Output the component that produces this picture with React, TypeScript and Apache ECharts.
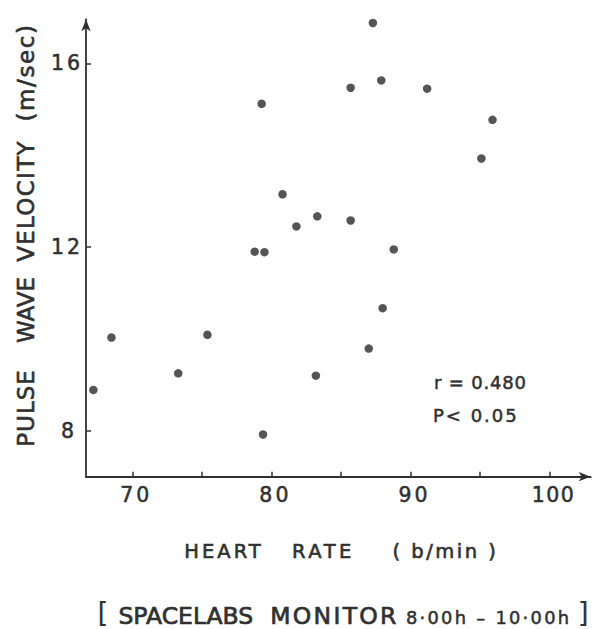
import React, { useEffect, useRef } from "react";
import * as echarts from "echarts";

const heartRate = [67.2, 68.5, 73.3, 75.4, 78.8, 79.5, 79.4, 79.3, 80.8, 81.8, 83.3, 85.7, 88.8, 87.3, 85.7, 87.9, 91.2, 95.9, 95.1, 88.0, 87.0, 83.2];
const pulseWaveVelocity = [8.89, 10.03, 9.25, 10.09, 11.9, 11.89, 7.92, 15.12, 13.15, 12.45, 12.67, 12.58, 11.95, 16.88, 15.47, 15.63, 15.45, 14.77, 13.93, 10.67, 9.79, 9.2];

const xTickValues = [70, 75, 80, 85, 90, 95, 100];
const xLabelValues = [70, 80, 90, 100];
const yTickValues = [8, 12, 16];

const yTitleWords = ["PULSE", "WAVE", "VELOCITY", "(m/sec)"];
const xTitleWords = ["HEART", "RATE", "( b/min )"];
const sourceWords = ["SPACELABS", "MONITOR"];
const sourceTime = "8·00h – 10·00h";
const statLines = ["r = 0.480", "P< 0.05"];

const FONT = "DejaVu Sans";
const INK = "#303030";

// extra tracking (px) per text, emulating the wide lettering of the original
const tracking: Record<string, number> = {
  PULSE: 1,
  VELOCITY: 1.3,
  "(m/sec)": 1.6,
  HEART: 3,
  RATE: 3.5,
  "( b/min )": 2.5,
  MONITOR: 2.3,
  [sourceTime]: 2.3,
  [statLines[0]]: 0.8,
  [statLines[1]]: 2,
  "70": 3,
  "80": 3,
  "90": 3,
  "100": 1.5,
  "16": 3,
  "12": 3,
  "8": 9,
};

export default function App() {
  const ref = useRef<HTMLDivElement>(null);
  useEffect(() => {
    if (!ref.current) return;
    const chart = echarts.init(ref.current, undefined, { renderer: "svg" });
    const points = heartRate.map((x, i) => [x, pulseWaveVelocity[i]]);
    const yWordCenters = [408, 310, 201, 72.5];
    const xWordCenters = [222.5, 321.7, 444.2];
    const srcCenters = [185.8, 333.3];

    const txt = (x: number, y: number, text: string, size: number, align = "center", rotation = 0, lw = 0.5) => ({
      type: "text",
      x: align === "center" && rotation === 0 ? x + (tracking[text] || 0) / 2 : x,
      y,
      rotation,
      style: {
        text,
        fontFamily: FONT,
        fontSize: size,
        fill: INK,
        stroke: lw > 0 ? INK : undefined,
        lineWidth: lw,
        align,
        verticalAlign: "middle",
      },
    });

    const graphics: any[] = [];
    yTitleWords.forEach((w, i) => graphics.push(txt(25.5, yWordCenters[i], w, 23, "center", Math.PI / 2, 0.6)));
    xTitleWords.forEach((w, i) => graphics.push(txt(xWordCenters[i], 551.5, w, 19.5, "center", 0, 0.6)));
    sourceWords.forEach((w, i) => graphics.push(txt(srcCenters[i], 616.2, w, 23.5, "center", 0, 0.7)));
    graphics.push(txt(487.5, 617.4, sourceTime, 17.8));
    graphics.push(txt(103, 613.5, "[", 28, "center", 0, 0));
    graphics.push(txt(583.3, 613.5, "]", 28, "center", 0, 0));
    graphics.push(txt(434, 382.5, statLines[0], 18, "left"));
    graphics.push(txt(433, 415.5, statLines[1], 18, "left"));

    chart.setOption({
      animation: false,
      backgroundColor: "#ffffff",
      grid: { left: 86, right: 6.3, top: 19.3, bottom: 152.3, containLabel: false, outerBoundsMode: "none" },
      xAxis: {
        type: "value",
        min: 66.67,
        max: 102.96,
        splitLine: { show: false },
        axisLine: {
          show: true,
          onZero: false,
          symbol: ["none", "arrow"],
          symbolSize: [7, 12],
          lineStyle: { color: INK, width: 1.8 },
        },
        axisTick: { show: true, inside: true, length: 5, customValues: xTickValues, lineStyle: { color: INK, width: 1.5 } },
        axisLabel: {
          show: true,
          customValues: xLabelValues,
          margin: 8,
          padding: [0, 0, 0, 8],
          color: INK,
          fontFamily: FONT,
          fontSize: 20.5,
          textBorderColor: INK,
          textBorderWidth: 0.5,
        },
      },
      yAxis: {
        type: "value",
        min: 7,
        max: 16.96,
        splitLine: { show: false },
        axisLine: {
          show: true,
          onZero: false,
          symbol: ["none", "arrow"],
          symbolSize: [7, 12],
          lineStyle: { color: INK, width: 1.8 },
        },
        axisTick: { show: true, inside: true, length: 5, customValues: yTickValues, lineStyle: { color: INK, width: 1.5 } },
        axisLabel: {
          show: true,
          customValues: yTickValues,
          margin: 3,
          color: INK,
          fontFamily: FONT,
          fontSize: 20.5,
          textBorderColor: INK,
          textBorderWidth: 0.5,
        },
      },
      series: [
        {
          type: "scatter",
          data: points,
          symbol: "circle",
          symbolSize: 8.5,
          itemStyle: { color: "#2a2a2a" },
        },
      ],
      graphic: graphics,
    });

    const applyTracking = () => {
      const root = ref.current;
      if (!root) return;
      root.querySelectorAll("text").forEach((t) => {
        const s = tracking[(t.textContent || "").trim()] ?? tracking[t.textContent || ""];
        if (s) t.setAttribute("letter-spacing", String(s));
      });
    };
    applyTracking();
    chart.on("finished", applyTracking);
    const timer = setTimeout(applyTracking, 0);
    return () => {
      clearTimeout(timer);
      chart.dispose();
    };
  }, []);
  return (
    <div
      ref={ref}
      style={{ position: "fixed", left: 0, top: 0, width: 597, height: 629, background: "#fff" }}
    />
  );
}
